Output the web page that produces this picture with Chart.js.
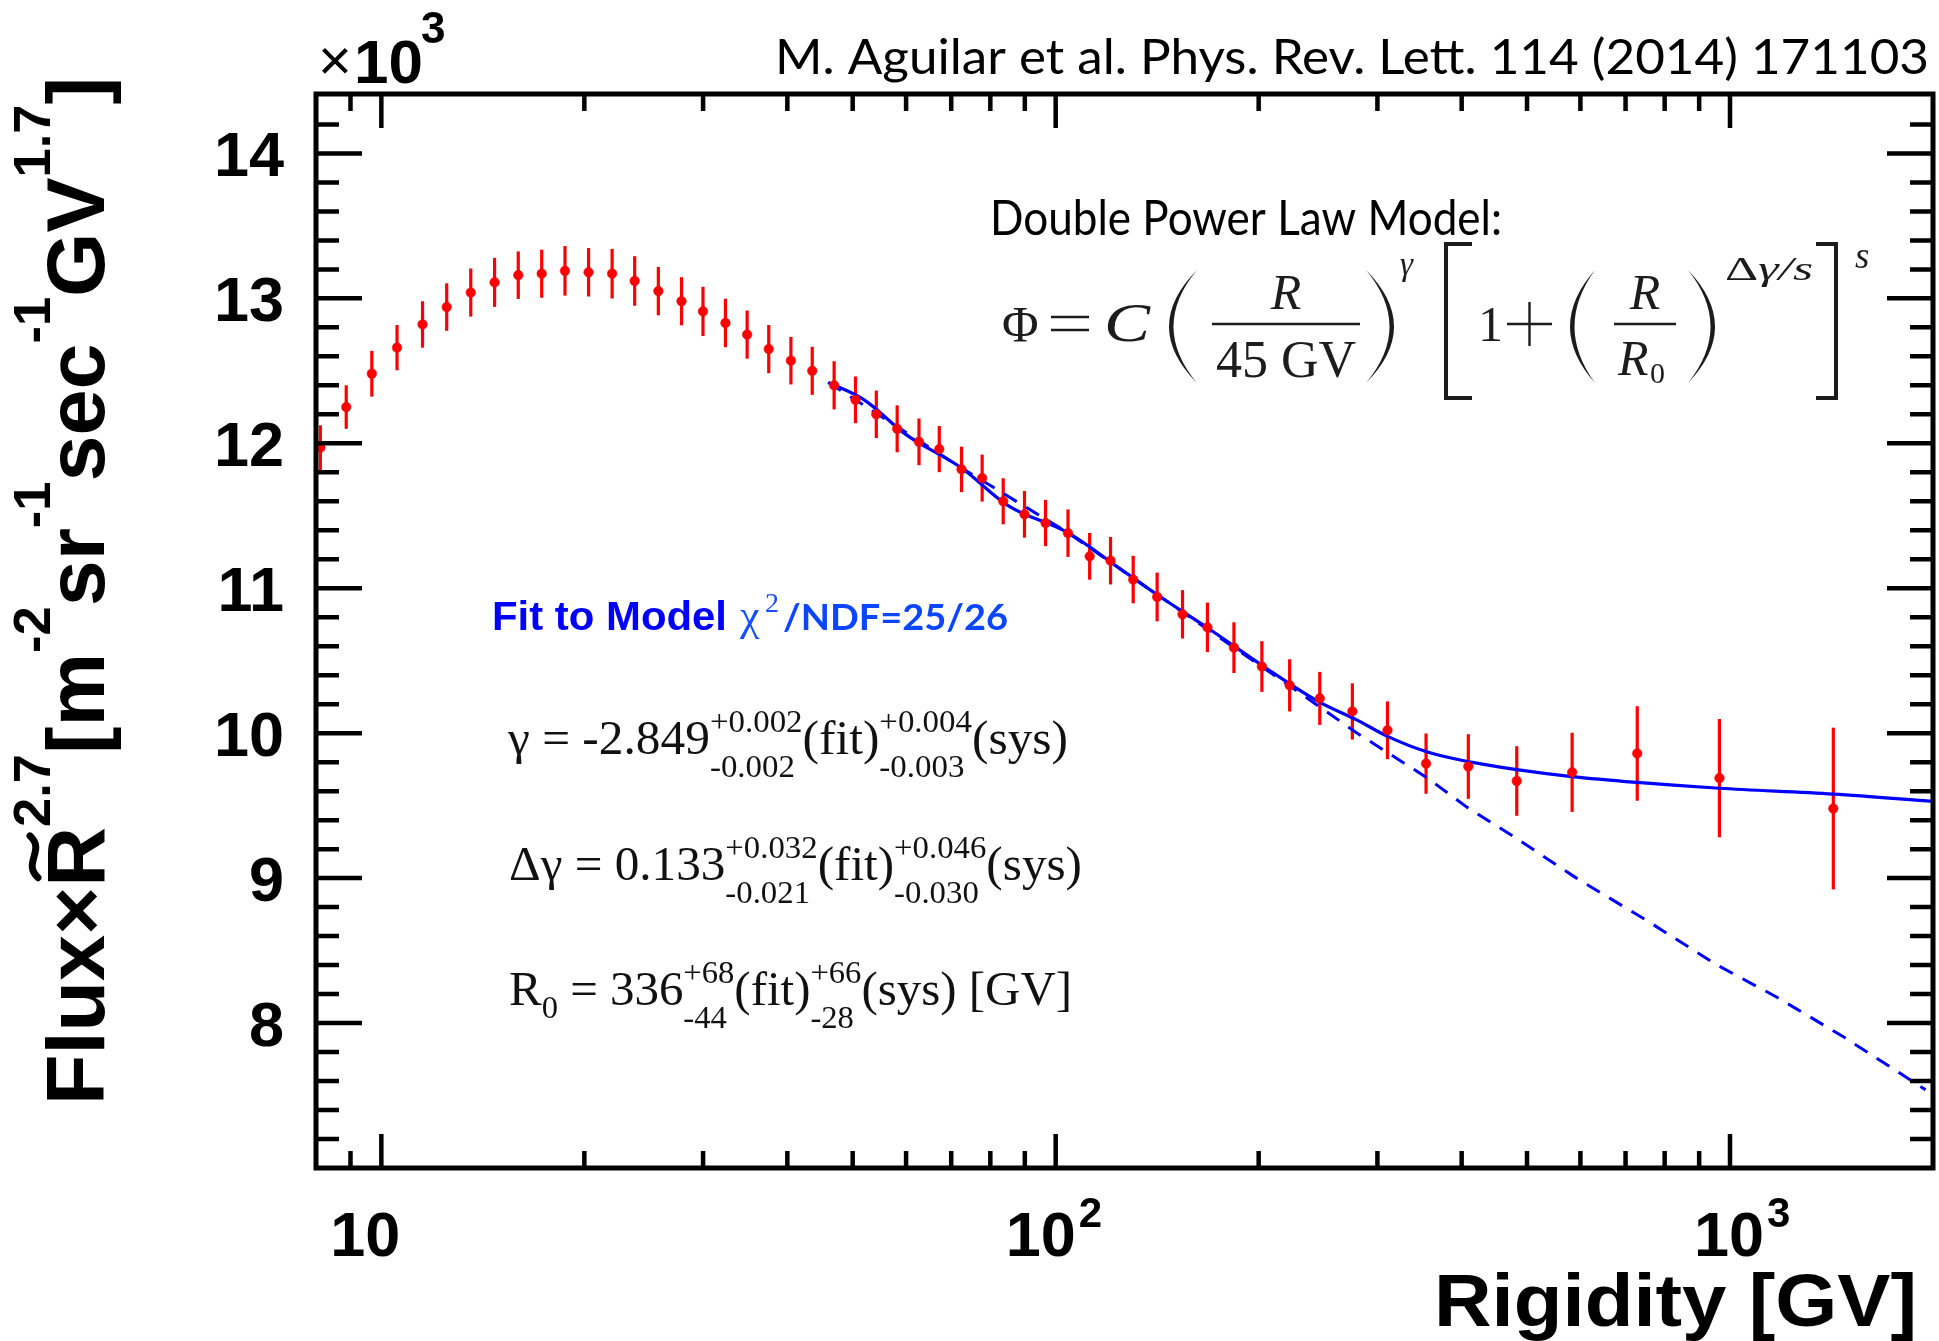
<!DOCTYPE html>
<html lang="fr">
<head>
<meta charset="utf-8">
<title>Flux de protons AMS</title>
<script src="https://cdn.jsdelivr.net/npm/chart.js@4.4.1/dist/chart.umd.min.js"></script>
<style>
  html, body { margin: 0; padding: 0; background: #ffffff; }
  #conteneur { width: 1939px; height: 1341px; }
</style>
</head>
<body>
<div id="conteneur"><canvas id="chartFluxRigidite" width="1939" height="1341"></canvas></div>
<script>
// Données : rigidité (GV) et flux x R^2.7 (en unités de 10^3)
const rigidite = [8.12, 8.87, 9.68, 10.55, 11.51, 12.50, 13.57, 14.72, 15.96, 17.29,
    18.72, 20.29, 21.99, 23.75, 25.75, 27.87, 29.99, 32.38, 34.87, 37.54,
    40.49, 43.55, 46.93, 50.48, 54.2, 58.2, 62.7, 67.2, 72.5, 77.8,
    83.6, 89.9, 96.6, 104.3, 112.3, 120.6, 130.3, 141.4, 154.2, 167.9,
    183.8, 202.2, 222.3, 246.4, 275.4, 310.5, 354.2, 409.2, 482.8, 583.3,
    728.5, 964.5, 1423];
const flux = [11.97, 12.25, 12.48, 12.66, 12.82, 12.94, 13.04, 13.11, 13.16, 13.17,
    13.19, 13.18, 13.17, 13.12, 13.05, 12.98, 12.91, 12.83, 12.75, 12.65,
    12.57, 12.50, 12.40, 12.30, 12.20, 12.10, 12.01, 11.96, 11.82, 11.76,
    11.60, 11.51, 11.45, 11.38, 11.22, 11.19, 11.06, 10.94, 10.82, 10.73,
    10.59, 10.46, 10.33, 10.24, 10.15, 10.02, 9.79, 9.77, 9.67, 9.73,
    9.86, 9.69, 9.48];
const erreurFlux = [0.154, 0.150, 0.158, 0.156, 0.160, 0.164, 0.166, 0.169, 0.164, 0.166,
    0.171, 0.167, 0.171, 0.171, 0.167, 0.166, 0.170, 0.167, 0.166, 0.166,
    0.164, 0.166, 0.166, 0.161, 0.164, 0.162, 0.161, 0.159, 0.157, 0.162,
    0.159, 0.161, 0.160, 0.164, 0.161, 0.164, 0.164, 0.168, 0.167, 0.171,
    0.175, 0.175, 0.180, 0.183, 0.194, 0.199, 0.208, 0.223, 0.240, 0.273,
    0.326, 0.408, 0.558];

// Ajustement du modèle (ligne continue)
const ajustRigidite = [46, 52, 60, 72.5, 85, 104.5, 125, 142, 170, 205, 245, 280, 310, 356, 413, 480, 583, 728, 964, 1423, 2000];
const ajustFlux = [12.42, 12.30, 12.06, 11.83, 11.57, 11.38, 11.13, 10.95, 10.71, 10.45, 10.22, 10.09, 9.98, 9.87, 9.80, 9.75, 9.70, 9.66, 9.62, 9.58, 9.53];

// Loi de puissance simple (ligne pointillée)
const loiRigidite = [46, 72.5, 104.5, 142, 205, 233, 280, 356, 407, 480, 592, 751, 957, 1172, 1479, 1950];
const loiFlux = [12.42, 11.83, 11.38, 10.95, 10.44, 10.26, 10.00, 9.69, 9.49, 9.28, 9.00, 8.71, 8.40, 8.18, 7.90, 7.54];

// Graduations
const xTicksMajeurs = [10, 100, 1000];
const xTicksLabels = [['10', ''], ['10', '2'], ['10', '3']];
const xTicksDecalage = [-16, -15, -1];
const xTicksMineurs = [9, 20, 30, 40, 50, 60, 70, 80, 90, 200, 300, 400, 500, 600, 700, 800, 900];
const yTicksMajeurs = [8, 9, 10, 11, 12, 13, 14];
const yTicksLabels = ['8', '9', '10', '11', '12', '13', '14'];

const SANS = '"Liberation Sans", Arial, Helvetica, sans-serif';
const SERIF = '"Liberation Serif", "Times New Roman", serif';
const CALIBRI = 'Lato, "Open Sans", sans-serif';

// Mesure d'une suite de morceaux de texte (avec exposants / indices)
function mesurerRuns(ctx, runs) {
    let w = 0;
    runs.forEach(r => {
        ctx.font = r.f;
        if (r.sup !== undefined) {
            w += Math.max(ctx.measureText(r.sup).width, ctx.measureText(r.sub).width);
        } else {
            w += ctx.measureText(r.t).width;
        }
    });
    return w;
}

function dessinerTilde(ctx, xc, yc, w) {
    ctx.save();
    ctx.lineWidth = 7;
    ctx.lineCap = 'round';
    ctx.beginPath();
    const x0 = xc - w / 2;
    ctx.moveTo(x0, yc + 4);
    ctx.bezierCurveTo(x0 + w * 0.35, yc - 12, x0 + w * 0.65, yc + 12, x0 + w, yc - 4);
    ctx.stroke();
    ctx.restore();
}

// Dessine les morceaux à la suite, en ajustant la largeur totale si demandé
function dessinerRuns(ctx, runs, x, y, largeur, couleur) {
    ctx.save();
    ctx.fillStyle = couleur;
    ctx.strokeStyle = couleur;
    ctx.textAlign = 'left';
    ctx.textBaseline = 'alphabetic';
    const total = mesurerRuns(ctx, runs);
    ctx.translate(x, y);
    if (largeur) ctx.scale(largeur / total, 1);
    let cx = 0;
    runs.forEach(r => {
        ctx.font = r.f;
        if (r.sup !== undefined) {
            ctx.fillText(r.sup, cx, r.dyUp);
            ctx.fillText(r.sub, cx, r.dyDn);
            cx += Math.max(ctx.measureText(r.sup).width, ctx.measureText(r.sub).width);
        } else {
            const w = ctx.measureText(r.t).width;
            if (r.c) ctx.fillStyle = r.c;
            ctx.fillText(r.t, cx, r.dy || 0);
            ctx.fillStyle = couleur;
            if (r.tilde) dessinerTilde(ctx, cx + w / 2, -r.tilde, w * 0.7);
            cx += w;
        }
    });
    ctx.restore();
}

function texte(ctx, str, x, y, font, couleur, align, largeur) {
    ctx.save();
    ctx.font = font;
    ctx.fillStyle = couleur;
    ctx.textBaseline = 'alphabetic';
    ctx.textAlign = align || 'left';
    if (largeur) {
        const w = ctx.measureText(str).width;
        ctx.translate(x, y);
        ctx.scale(largeur / w, 1);
        ctx.fillText(str, 0, 0);
    } else {
        ctx.fillText(str, x, y);
    }
    ctx.restore();
}

// Grande parenthèse (dx < 0 : ouvrante, dx > 0 : fermante)
function grandeParenthese(ctx, x, yHaut, yBas, dx) {
    const ym = (yHaut + yBas) / 2;
    ctx.beginPath();
    ctx.moveTo(x, yHaut);
    ctx.quadraticCurveTo(x + dx * 2, ym, x, yBas);
    ctx.quadraticCurveTo(x + dx * 2 - Math.sign(dx) * 9, ym, x, yHaut);
    ctx.fill();
}

function crochet(ctx, x, yHaut, yBas, dx) {
    ctx.beginPath();
    ctx.moveTo(x + dx, yHaut);
    ctx.lineTo(x, yHaut);
    ctx.lineTo(x, yBas);
    ctx.lineTo(x + dx, yBas);
    ctx.stroke();
}

// Barres d'erreur sous les points
const barresErreur = {
    id: 'barresErreur',
    beforeDatasetsDraw(chart) {
        const { ctx, scales: { x, y } } = chart;
        ctx.save();
        ctx.strokeStyle = '#ff0000';
        ctx.lineWidth = 3.2;
        rigidite.forEach((r, i) => {
            const px = x.getPixelForValue(r);
            ctx.beginPath();
            ctx.moveTo(px, y.getPixelForValue(flux[i] - erreurFlux[i]));
            ctx.lineTo(px, y.getPixelForValue(flux[i] + erreurFlux[i]));
            ctx.stroke();
        });
        ctx.restore();
    }
};

// Cadre, graduations intérieures, libellés et annotations
const cadreEtTextes = {
    id: 'cadreEtTextes',
    afterDraw(chart) {
        const { ctx, chartArea: a, scales: { x, y } } = chart;
        ctx.save();
        ctx.strokeStyle = '#000';
        ctx.lineCap = 'butt';

        // graduations Y (gauche et droite)
        ctx.lineWidth = 4.5;
        for (let k = 0; k <= 37; k++) {
            const v = 7 + k * 0.2;
            const py = y.getPixelForValue(v);
            if (py < a.top + 3 || py > a.bottom - 3) continue;
            const majeur = Math.abs(v - Math.round(v)) < 1e-6;
            const L = majeur ? 46 : 23;
            ctx.beginPath();
            ctx.moveTo(a.left, py); ctx.lineTo(a.left + L, py);
            ctx.moveTo(a.right, py); ctx.lineTo(a.right - L, py);
            ctx.stroke();
        }
        // graduations X (bas et haut)
        const ticksX = xTicksMineurs.map(v => [v, 17]).concat(xTicksMajeurs.map(v => [v, 34]));
        ticksX.forEach(([v, L]) => {
            const px = x.getPixelForValue(v);
            ctx.beginPath();
            ctx.moveTo(px, a.bottom); ctx.lineTo(px, a.bottom - L);
            ctx.moveTo(px, a.top); ctx.lineTo(px, a.top + L);
            ctx.stroke();
        });
        // cadre
        ctx.lineWidth = 5;
        ctx.strokeRect(a.left, a.top, a.right - a.left, a.bottom - a.top);
        ctx.restore();

        // libellés Y
        yTicksMajeurs.forEach((v, i) => {
            texte(ctx, yTicksLabels[i], 284, y.getPixelForValue(v) + 23, `bold 63px ${SANS}`, '#000', 'right');
        });
        // libellés X (puissances de 10)
        xTicksMajeurs.forEach((v, i) => {
            const [base, expo] = xTicksLabels[i];
            const px = x.getPixelForValue(v) + xTicksDecalage[i];
            ctx.save();
            ctx.font = `bold 63px ${SANS}`;
            const wb = ctx.measureText(base).width;
            ctx.restore();
            texte(ctx, base, px - wb / 2, 1256, `bold 63px ${SANS}`, '#000');
            if (expo) texte(ctx, expo, px + wb / 2 + 3, 1227, `bold 42px ${SANS}`, '#000');
        });

        // x10^3
        texte(ctx, '×', 318, 80, `58px ${SANS}`, '#000');
        texte(ctx, '10', 354, 83, `bold 62px ${SANS}`, '#000');
        texte(ctx, '3', 421, 43, `bold 44px ${SANS}`, '#000');

        // titre de l'axe X
        texte(ctx, 'Rigidity [GV]', 1434, 1326, `bold 74px ${SANS}`, '#000', 'left', 483);

        // titre de l'axe Y (tourné)
        const fT = `bold 82px ${SANS}`, fS = `bold 52px ${SANS}`;
        const runsY = [
            { t: 'Flux', f: fT }, { t: '×', f: fT }, { t: 'R', f: fT, tilde: 70 },
            { t: '2.7', f: fS, dy: -54 }, { t: '[m', f: fT }, { t: '-2', f: fS, dy: -54 },
            { t: 'sr', f: fT }, { t: '-1', f: fS, dy: -54 }, { t: 'sec', f: fT },
            { t: '-1', f: fS, dy: -54 }, { t: 'GV', f: fT }, { t: '1.7', f: fS, dy: -54 },
            { t: ']', f: fT }
        ];
        ctx.save();
        ctx.translate(104, 1105);
        ctx.rotate(-Math.PI / 2);
        dessinerRuns(ctx, runsY, 0, 0, 1028, '#000');
        ctx.restore();

        // référence
        texte(ctx, 'M. Aguilar et al. Phys. Rev. Lett. 114 (2014) 171103', 775, 74, `48px ${CALIBRI}`, '#000', 'left', 1154);

        // modèle
        texte(ctx, 'Double Power Law Model:', 990, 235, `48px ${CALIBRI}`, '#000', 'left', 512);
        const noir = '#1c1c1c';
        const fM = `50px ${SERIF}`, fMi = `italic 50px ${SERIF}`, fE = `italic 33px ${SERIF}`;
        texte(ctx, 'Φ', 1002, 341, fM, noir);
        texte(ctx, 'C', 1104, 341, `italic 54px ${SERIF}`, noir, 'left', 46);
        ctx.save();
        ctx.fillStyle = noir; ctx.strokeStyle = noir;
        grandeParenthese(ctx, 1197, 270, 383, -28);
        grandeParenthese(ctx, 1366, 270, 383, 28);
        grandeParenthese(ctx, 1595, 270, 383, -25);
        grandeParenthese(ctx, 1688, 270, 383, 27);
        ctx.lineWidth = 2.4;
        ctx.beginPath();
        // barres de fraction
        ctx.moveTo(1212, 324); ctx.lineTo(1360, 324);
        ctx.moveTo(1614, 324); ctx.lineTo(1676, 324);
        // signe =
        ctx.moveTo(1051, 317); ctx.lineTo(1089, 317);
        ctx.moveTo(1051, 330); ctx.lineTo(1089, 330);
        // signe +
        ctx.moveTo(1507, 324); ctx.lineTo(1552, 324);
        ctx.moveTo(1529.5, 302); ctx.lineTo(1529.5, 346);
        ctx.stroke();
        ctx.lineWidth = 4;
        crochet(ctx, 1446, 244, 398, 26);
        crochet(ctx, 1836, 244, 398, -20);
        ctx.restore();
        texte(ctx, 'R', 1286, 309, fMi, noir, 'center');
        texte(ctx, '45 GV', 1286, 377, `52px ${SERIF}`, noir, 'center');
        texte(ctx, 'γ', 1400, 275, fE, noir);
        texte(ctx, '1', 1478, 341, fM, noir);
        texte(ctx, 'R', 1645, 309, fMi, noir, 'center');
        texte(ctx, 'R', 1618, 375, fMi, noir);
        texte(ctx, '0', 1650, 383, `30px ${SERIF}`, noir);
        dessinerRuns(ctx, [
            { t: 'Δ', f: `33px ${SERIF}` }, { t: 'γ/s', f: fE }
        ], 1725, 280, 88, noir);
        texte(ctx, 's', 1855, 268, `italic 37px ${SERIF}`, noir);

        // résultat de l'ajustement
        texte(ctx, 'Fit to Model', 492, 630, `bold 41px ${SANS}`, '#0000ff', 'left', 235);
        texte(ctx, 'χ', 740, 630, `44px ${SERIF}`, '#1450ff');
        texte(ctx, '2', 765, 612, `28px ${SERIF}`, '#1450ff');
        texte(ctx, '/NDF=25/26', 783, 630, `bold 37px ${CALIBRI}`, '#0a46ff', 'left', 225);

        const fP = `48px ${SERIF}`, fS2 = `32px ${SERIF}`;
        const m = t => ({ t: t, f: fP });
        const p = (sup, sub) => ({ sup: sup, sub: sub, f: fS2, dyUp: -22, dyDn: 23 });
        dessinerRuns(ctx, [m('γ = -2.849'), p('+0.002', '-0.002'), m('(fit)'), p('+0.004', '-0.003'), m('(sys)')],
            508, 754, 560, '#111');
        dessinerRuns(ctx, [m('Δγ = 0.133'), p('+0.032', '-0.021'), m('(fit)'), p('+0.046', '-0.030'), m('(sys)')],
            509, 880, 573, '#111');
        dessinerRuns(ctx, [m('R'), { t: '0', f: fS2, dy: 13 }, m(' = 336'), p('+68', '-44'), m('(fit)'), p('+66', '-28'), m('(sys) [GV]')],
            509, 1005, 563, '#111');
    }
};

const canvas = document.getElementById('chartFluxRigidite');

const chart = new Chart(canvas, {
    type: 'scatter',
    data: {
        datasets: [
            {
                label: 'AMS',
                data: rigidite.map((r, i) => ({ x: r, y: flux[i] })),
                pointRadius: 4.8,
                pointBackgroundColor: '#ff0000',
                pointBorderColor: '#ff0000',
                pointBorderWidth: 0.5,
                order: 0
            },
            {
                type: 'line',
                label: 'Ajustement',
                data: ajustRigidite.map((r, i) => ({ x: r, y: ajustFlux[i] })),
                borderColor: '#0000ff',
                borderWidth: 3.2,
                pointRadius: 0,
                cubicInterpolationMode: 'monotone',
                fill: false,
                order: 1
            },
            {
                type: 'line',
                label: 'Loi de puissance',
                data: loiRigidite.map((r, i) => ({ x: r, y: loiFlux[i] })),
                borderColor: '#0000ff',
                borderWidth: 3,
                borderDash: [15, 11],
                pointRadius: 0,
                tension: 0,
                fill: false,
                order: 2
            }
        ]
    },
    options: {
        responsive: false,
        animation: false,
        devicePixelRatio: 1,
        layout: { padding: { left: 316, right: 6, top: 94, bottom: 173 } },
        plugins: {
            legend: { display: false },
            tooltip: { enabled: false }
        },
        scales: {
            x: { type: 'logarithmic', min: 8, max: 2000, display: false },
            y: { type: 'linear', min: 7, max: 14.41, display: false }
        }
    },
    plugins: [barresErreur, cadreEtTextes]
});
</script>
</body>
</html>
